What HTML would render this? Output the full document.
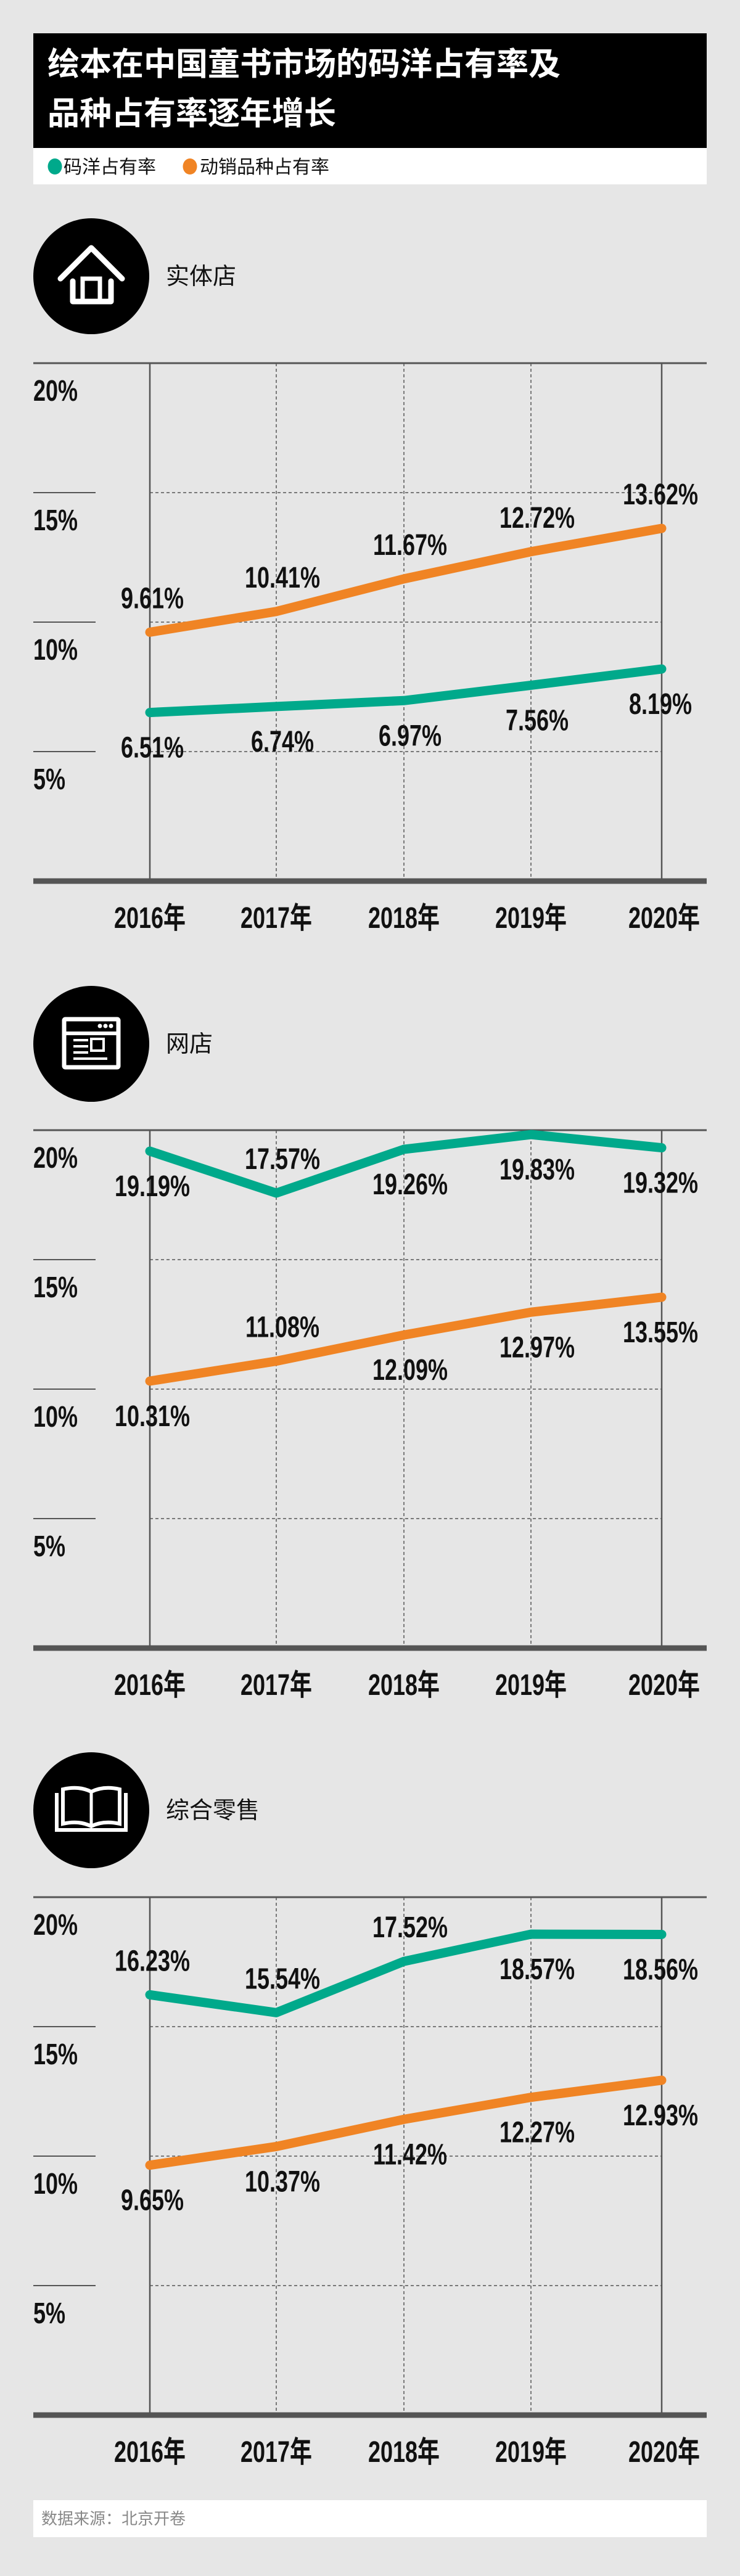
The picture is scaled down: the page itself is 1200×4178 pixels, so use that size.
<!DOCTYPE html>
<html><head><meta charset="utf-8">
<style>
html,body{margin:0;padding:0;background:#e6e6e6;}
svg{display:block;}
.cjk{font-family:"Liberation Sans","Noto Sans CJK SC",sans-serif;}
.num{font-family:"Liberation Sans","Noto Sans CJK SC",sans-serif;font-weight:bold;}
</style></head>
<body>
<svg id="page" width="1200" height="4178" viewBox="0 0 1200 4178" xmlns="http://www.w3.org/2000/svg">
<rect width="1200" height="4178" fill="#e6e6e6"/>
<g>
<rect x="54" y="54" width="1092" height="186" fill="#000"/>
<text class="cjk" x="77" y="122" font-size="52" font-weight="bold" fill="#fff">绘本在中国童书市场的码洋占有率及</text>
<text class="cjk" x="77" y="202" font-size="52" font-weight="bold" fill="#fff">品种占有率逐年增长</text>
</g>
<g>
<rect x="54" y="240" width="1092" height="59" fill="#fff"/>
<g>
<ellipse cx="89" cy="270" rx="11.5" ry="13" fill="#00a98b"/>
<text class="cjk" x="103" y="281" font-size="30" fill="#111">码洋占有率</text></g>
<g>
<ellipse cx="308" cy="270" rx="11.5" ry="13" fill="#f08424"/>
<text class="cjk" x="324" y="281" font-size="30" fill="#111">动销品种占有率</text></g>
</g>
<g id="charts"></g>
<g>
<rect x="54" y="4055" width="1092" height="60" fill="#fff"/>
<text class="cjk" x="67" y="4094" font-size="26" fill="#888">数据来源：北京开卷</text>
</g>
</svg>
<script>
const years = ["2016年","2017年","2018年","2019年","2020年"];
const yTicks = [20, 15, 10, 5];
const yTickLabels = ["20%","15%","10%","5%"];
const c1Name = "实体店";
const c1Yardage = [6.51, 6.74, 6.97, 7.56, 8.19];
const c1Titles = [9.61, 10.41, 11.67, 12.72, 13.62];
const c2Name = "网店";
const c2Yardage = [19.19, 17.57, 19.26, 19.83, 19.32];
const c2Titles = [10.31, 11.08, 12.09, 12.97, 13.55];
const c3Name = "综合零售";
const c3Yardage = [16.23, 15.54, 17.52, 18.57, 18.56];
const c3Titles = [9.65, 10.37, 11.42, 12.27, 12.93];
// label placement: 1 = above, -1 = below
const c1YardSide = [-1,-1,-1,-1,-1], c1TitleSide = [1,1,1,1,1];
const c2YardSide = [-1,1,-1,-1,-1], c2TitleSide = [-1,1,-1,-1,-1];
const c3YardSide = [1,1,1,-1,-1], c3TitleSide = [-1,-1,-1,-1,-1];

const NS="http://www.w3.org/2000/svg";
const root=document.getElementById('charts');
function mk(tag,attrs,parent){const e=document.createElementNS(NS,tag);for(const k in attrs)e.setAttribute(k,attrs[k]);(parent||root).appendChild(e);return e;}
const xPos=[243,448,655,861,1073];
function xScale(i){return xPos[i];}

function numText(g,str,x,y,anchor){
  const t=mk('text',{class:'num',x:0,y:0,'font-size':48,fill:'#111','text-anchor':anchor,transform:`translate(${x},${y}) scale(0.75,1)`},g);
  t.textContent=str;return t;
}

function icon(kind,cx,cy,g){
  mk('circle',{cx:cx,cy:cy,r:94,fill:'#000'},g);
  if(kind===0){
    mk('polyline',{points:`${cx-50},${cy+4} ${cx},${cy-46} ${cx+50},${cy+4}`,fill:'none',stroke:'#fff','stroke-width':9,'stroke-linecap':'round','stroke-linejoin':'round'},g);
    mk('polyline',{points:`${cx-30},${cy+8} ${cx-30},${cy+41} ${cx+32},${cy+41} ${cx+32},${cy+8}`,fill:'none',stroke:'#fff','stroke-width':9,'stroke-linecap':'round','stroke-linejoin':'round'},g);
    mk('rect',{x:cx-14,y:cy+4,width:28,height:37,fill:'none',stroke:'#fff','stroke-width':7},g);
  }else if(kind===1){
    mk('rect',{x:cx-44,y:cy-40,width:88,height:78,fill:'none',stroke:'#fff','stroke-width':7,rx:2},g);
    mk('line',{x1:cx-44,y1:cy-17,x2:cx+44,y2:cy-17,stroke:'#fff','stroke-width':6},g);
    for(let k=0;k<3;k++)mk('circle',{cx:cx+14+k*9,cy:cy-29,r:3.5,fill:'#fff'},g);
    for(let k=0;k<3;k++)mk('line',{x1:cx-29,y1:cy-6+k*10,x2:cx-5,y2:cy-6+k*10,stroke:'#fff','stroke-width':4},g);
    mk('rect',{x:cx,y:cy-8,width:20,height:19,fill:'none',stroke:'#fff','stroke-width':4},g);
    mk('line',{x1:cx-29,y1:cy+24,x2:cx+26,y2:cy+24,stroke:'#fff','stroke-width':4},g);
  }else{
    mk('path',{d:`M${cx-56},${cy-28} V${cy+32} H${cx+56} V${cy-28}`,fill:'none',stroke:'#fff','stroke-width':6},g);
    mk('path',{d:`M${cx-46},${cy-34} Q${cx-20},${cy-40} ${cx},${cy-30} Q${cx+20},${cy-40} ${cx+46},${cy-34} V${cy+22} Q${cx+20},${cy+16} ${cx},${cy+26} Q${cx-20},${cy+16} ${cx-46},${cy+22} Z`,fill:'none',stroke:'#fff','stroke-width':6},g);
    mk('line',{x1:cx,y1:cy-30,x2:cx,y2:cy+24,stroke:'#fff','stroke-width':5},g);
  }
}

function chart(idx,name,yard,titles,yardSide,titleSide,iconY,top){
  const g=mk('g',{});
  
  
  const bottom=top+840;
  const yScale=v=>bottom-v*(840/20);
  const head=mk('g',{},g);
  
  
  icon(idx,148,iconY,head);
  const lab=mk('text',{class:'cjk',x:269,y:iconY+13,'font-size':38,fill:'#111'},head);
  lab.textContent=name;
  const grid=mk('g',{},g);
  
  
  mk('line',{x1:54,y1:top,x2:1146,y2:top,stroke:'#555','stroke-width':3},grid);
  yTicks.forEach((t,i)=>{
    const y=yScale(t);
    if(i>0){
      mk('line',{x1:54,y1:y,x2:155,y2:y,stroke:'#555','stroke-width':2},grid);
      mk('line',{x1:243,y1:y,x2:1073,y2:y,stroke:'#555','stroke-width':1.5,'stroke-dasharray':'5,4'},grid);
    }
    const tl=numText(grid,yTickLabels[i],54,y+61,'start');
    
    
  });
  years.forEach((yr,i)=>{
    const x=xScale(i);
    const solid=(i===0||i===years.length-1);
    mk('line',{x1:x,y1:top,x2:x,y2:bottom,stroke:'#555','stroke-width':solid?2.5:1.5,'stroke-dasharray':solid?'none':'5,4'},grid);
    const xl=numText(grid,yr,x+(i===4?4:0),bottom+76,'middle');
    
    
  });
  mk('line',{x1:54,y1:bottom,x2:1146,y2:bottom,stroke:'#555','stroke-width':9},grid);
  [[titles,'#f08424',titleSide,'titles'],[yard,'#00a98b',yardSide,'yardage']].forEach(([vals,col,side,nm])=>{
    const pts=vals.map((v,i)=>xScale(i)+','+yScale(v)).join(' ');
    const pl=mk('polyline',{points:pts,fill:'none',stroke:col,'stroke-width':15,'stroke-linecap':'round','stroke-linejoin':'round'},g);
    
    
    vals.forEach((v,i)=>{
      const x=xScale(i)+(i===4?-2:(i===0?4:10));
      const y=yScale(v)-side[i]*56+17;
      const t=numText(g,v.toFixed(2)+'%',x,y,'middle');
      
      
    });
  });
}
chart(0,c1Name,c1Yardage,c1Titles,c1YardSide,c1TitleSide,448,589);
chart(1,c2Name,c2Yardage,c2Titles,c2YardSide,c2TitleSide,1693,1833);
chart(2,c3Name,c3Yardage,c3Titles,c3YardSide,c3TitleSide,2936,3077);
</script>
</body></html>
